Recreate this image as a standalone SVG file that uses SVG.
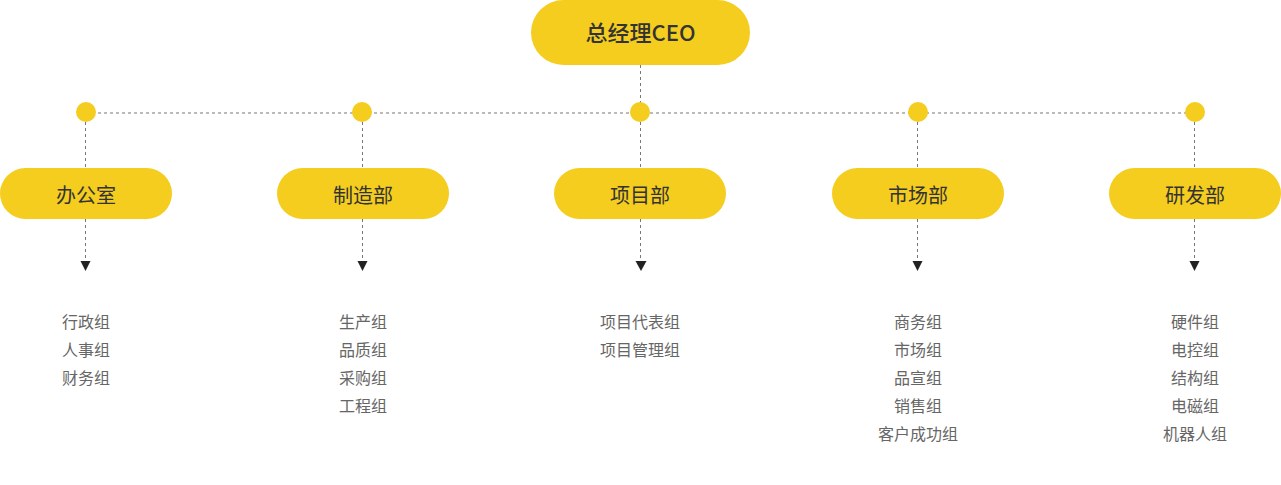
<svg xmlns="http://www.w3.org/2000/svg" width="1281" height="485" viewBox="0 0 1281 485">
<defs>
<style>
.node{fill:#F4CD1F;}
.dot{fill:#F4CD1F;}
.line{stroke:#777;stroke-width:1;stroke-dasharray:3 3;fill:none;}
.ceo{font-family:"Noto Sans CJK SC","Liberation Sans",sans-serif;font-size:22px;font-weight:500;fill:#333;text-anchor:middle;}
.dept{font-family:"Noto Sans CJK SC",sans-serif;font-size:20px;fill:#333;text-anchor:middle;}
.item{font-family:"Noto Sans CJK SC",sans-serif;font-size:16px;fill:#666;text-anchor:middle;}
</style>
</defs>
<g id="connectors">
<line class="line" x1="640.5" y1="65" x2="640.5" y2="103"/>
<line class="line" x1="86" y1="113" x2="1195" y2="113"/>
<line class="line" x1="85.5" y1="122" x2="85.5" y2="168"/>
<line class="line" x1="362.5" y1="122" x2="362.5" y2="168"/>
<line class="line" x1="640.5" y1="122" x2="640.5" y2="168"/>
<line class="line" x1="917.5" y1="122" x2="917.5" y2="168"/>
<line class="line" x1="1194.5" y1="122" x2="1194.5" y2="168"/>
<line class="line" x1="85.5" y1="219" x2="85.5" y2="262"/>
<line class="line" x1="362.5" y1="219" x2="362.5" y2="262"/>
<line class="line" x1="640.5" y1="219" x2="640.5" y2="262"/>
<line class="line" x1="917.5" y1="219" x2="917.5" y2="262"/>
<line class="line" x1="1194.5" y1="219" x2="1194.5" y2="262"/>
<path d="M80.5,261 L90.5,261 L85.5,271 Z" fill="#222"/>
<path d="M357.5,261 L367.5,261 L362.5,271 Z" fill="#222"/>
<path d="M635.5,261 L646.5,261 L641,271 Z" fill="#222"/>
<path d="M912.5,261 L922.5,261 L917.5,271 Z" fill="#222"/>
<path d="M1189.5,261 L1199.5,261 L1194.5,271 Z" fill="#222"/>
</g>
<g id="dots">
<circle class="dot" cx="86" cy="112" r="10"/>
<circle class="dot" cx="362" cy="112" r="10"/>
<circle class="dot" cx="640" cy="112" r="10"/>
<circle class="dot" cx="918" cy="112" r="10"/>
<circle class="dot" cx="1195" cy="112" r="10"/>
</g>
<g id="ceo">
<rect class="node" x="531" y="0" width="219" height="65" rx="32.5"/>
<text class="ceo" x="640.5" y="40.5">总经理CEO</text>
</g>
<g id="office">
<rect class="node" x="0" y="168" width="172" height="51" rx="25.5"/>
<text class="dept" x="86" y="202.5">办公室</text>
<text class="item" x="86" y="328">行政组</text>
<text class="item" x="86" y="356">人事组</text>
<text class="item" x="86" y="384">财务组</text>
</g>
<g id="manufacturing">
<rect class="node" x="277" y="168" width="172" height="51" rx="25.5"/>
<text class="dept" x="363" y="202.5">制造部</text>
<text class="item" x="363" y="328">生产组</text>
<text class="item" x="363" y="356">品质组</text>
<text class="item" x="363" y="384">采购组</text>
<text class="item" x="363" y="412">工程组</text>
</g>
<g id="project">
<rect class="node" x="554" y="168" width="172" height="51" rx="25.5"/>
<text class="dept" x="640" y="202.5">项目部</text>
<text class="item" x="640" y="328">项目代表组</text>
<text class="item" x="640" y="356">项目管理组</text>
</g>
<g id="market">
<rect class="node" x="832" y="168" width="172" height="51" rx="25.5"/>
<text class="dept" x="918" y="202.5">市场部</text>
<text class="item" x="918" y="328">商务组</text>
<text class="item" x="918" y="356">市场组</text>
<text class="item" x="918" y="384">品宣组</text>
<text class="item" x="918" y="412">销售组</text>
<text class="item" x="918" y="440">客户成功组</text>
</g>
<g id="rnd">
<rect class="node" x="1109" y="168" width="172" height="51" rx="25.5"/>
<text class="dept" x="1195" y="202.5">研发部</text>
<text class="item" x="1195" y="328">硬件组</text>
<text class="item" x="1195" y="356">电控组</text>
<text class="item" x="1195" y="384">结构组</text>
<text class="item" x="1195" y="412">电磁组</text>
<text class="item" x="1195" y="440">机器人组</text>
</g>
</svg>
